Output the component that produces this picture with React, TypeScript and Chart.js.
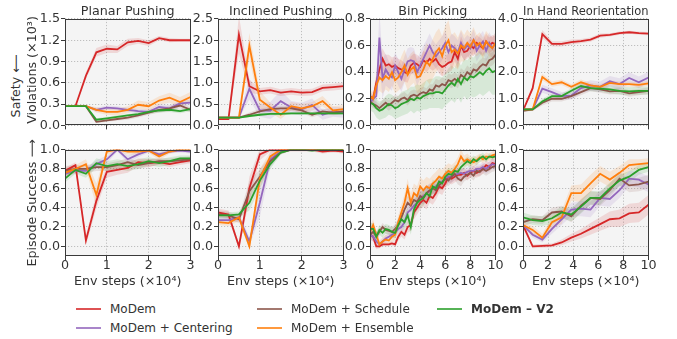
import React, { useEffect, useRef } from "react";
import { Chart, registerables } from "chart.js";

Chart.register(...registerables);

const FONT = "'DejaVu Sans', 'Liberation Sans', sans-serif";
const TEXT = "#333333";
const FRAME = "#3a3a3a";
const GRID = "#b8b8b8";
const PLOT_BG = "#f4f4f4";

const SERIES_NAMES = ["MoDem", "MoDem + Centering", "MoDem + Schedule", "MoDem + Ensemble", "MoDem – V2"];
const SERIES_COLORS = ["#d62728", "#9467bd", "#8c564b", "#ff7f0e", "#2ca02c"];
const TITLES = ["Planar Pushing", "Inclined Pushing", "Bin Picking", "In Hand Reorientation"];
const X_TITLE = "Env steps (×10⁴)";
const Y_TOP_LINE1 = "Safety \u27F5";
const Y_TOP_LINE2 = "Violations (×10³)";
const Y_BOTTOM = "Episode Success \u27F6";

// x values (×10^4 env steps)
const X_SHORT = [0, 0.25, 0.5, 0.75, 1, 1.25, 1.5, 1.75, 2, 2.25, 2.5, 2.75, 3];
const X_HAND = [0, 0.77, 1.54, 2.31, 3.08, 3.85, 4.62, 5.38, 6.15, 6.92, 7.69, 8.46, 9.23, 10];
const X_BIN = [0, 0.25, 0.5, 0.75, 1, 1.25, 1.5, 1.75, 2, 2.25, 2.5, 2.75, 3, 3.25, 3.5, 3.75, 4, 4.25, 4.5, 4.75, 5, 5.25, 5.5, 5.75, 6, 6.25, 6.5, 6.75, 7, 7.25, 7.5, 7.75, 8, 8.25, 8.5, 8.75, 9, 9.25, 9.5, 9.75, 10];

// tick values
const X_TICKS_SHORT = [0, 1, 2, 3];
const X_TICKS_LONG = [0, 2, 4, 6, 8, 10];
const Y_TICKS_PLANAR = [0, 0.3, 0.6, 0.9, 1.2, 1.5];
const Y_TICKS_INCLINED = [0, 0.5, 1, 1.5, 2, 2.5];
const Y_TICKS_BIN = [0, 0.2, 0.4, 0.6, 0.8];
const Y_TICKS_HAND = [0, 1, 2, 3, 4];
const Y_TICKS_SUCCESS = [0, 0.2, 0.4, 0.6, 0.8, 1.0];

// ---------- Planar pushing: violations ----------
const planarViolRed = [0.27, 0.27, 0.70, 1.03, 1.08, 1.07, 1.17, 1.19, 1.16, 1.23, 1.20, 1.20, 1.20];
const planarViolPurple = [0.27, 0.27, 0.27, 0.22, 0.25, 0.24, 0.22, 0.20, 0.19, 0.26, 0.24, 0.31, 0.32];
const planarViolBrown = [0.27, 0.27, 0.27, 0.05, 0.07, 0.09, 0.11, 0.14, 0.18, 0.22, 0.24, 0.28, 0.22];
const planarViolOrange = [0.27, 0.27, 0.27, 0.22, 0.19, 0.19, 0.22, 0.29, 0.27, 0.35, 0.39, 0.33, 0.40];
const planarViolGreen = [0.27, 0.27, 0.27, 0.08, 0.10, 0.12, 0.14, 0.16, 0.19, 0.21, 0.22, 0.20, 0.23];
const planarViolRedSd = [0.01, 0.01, 0.05, 0.06, 0.06, 0.05, 0.05, 0.04, 0.04, 0.03, 0.03, 0.02, 0.02];
const planarViolPurpleSd = [0.01, 0.01, 0.01, 0.03, 0.03, 0.03, 0.03, 0.03, 0.03, 0.04, 0.04, 0.04, 0.04];
const planarViolBrownSd = [0.01, 0.01, 0.01, 0.02, 0.02, 0.02, 0.03, 0.03, 0.03, 0.04, 0.04, 0.04, 0.04];
const planarViolOrangeSd = [0.01, 0.01, 0.01, 0.04, 0.04, 0.05, 0.05, 0.06, 0.06, 0.06, 0.07, 0.07, 0.07];
const planarViolGreenSd = [0.01, 0.01, 0.01, 0.02, 0.02, 0.02, 0.02, 0.03, 0.03, 0.03, 0.03, 0.03, 0.03];

// ---------- Inclined pushing: violations ----------
const inclViolRed = [0.15, 0.15, 2.13, 0.92, 0.80, 0.83, 0.77, 0.80, 0.77, 0.78, 0.88, 0.90, 0.92];
const inclViolPurple = [0.18, 0.18, 0.18, 0.86, 0.35, 0.35, 0.57, 0.42, 0.38, 0.48, 0.25, 0.32, 0.30];
const inclViolBrown = [0.18, 0.18, 0.18, 0.25, 0.33, 0.38, 0.40, 0.40, 0.35, 0.25, 0.33, 0.30, 0.33];
const inclViolOrange = [0.18, 0.18, 0.18, 1.87, 0.60, 0.42, 0.25, 0.45, 0.40, 0.45, 0.57, 0.35, 0.38];
const inclViolGreen = [0.18, 0.18, 0.18, 0.22, 0.25, 0.27, 0.27, 0.28, 0.28, 0.28, 0.28, 0.28, 0.28];
const inclViolRedSd = [0.02, 0.02, 0.45, 0.15, 0.08, 0.08, 0.08, 0.08, 0.08, 0.08, 0.08, 0.08, 0.08];
const inclViolPurpleSd = [0.02, 0.02, 0.02, 0.25, 0.15, 0.20, 0.25, 0.15, 0.15, 0.15, 0.12, 0.12, 0.12];
const inclViolBrownSd = [0.02, 0.02, 0.02, 0.05, 0.06, 0.06, 0.06, 0.06, 0.06, 0.06, 0.06, 0.06, 0.06];
const inclViolOrangeSd = [0.02, 0.02, 0.02, 0.30, 0.20, 0.12, 0.10, 0.10, 0.10, 0.10, 0.12, 0.10, 0.10];
const inclViolGreenSd = [0.02, 0.02, 0.02, 0.03, 0.03, 0.03, 0.03, 0.03, 0.03, 0.03, 0.03, 0.03, 0.03];

// ---------- Bin picking: violations ----------
const binViolRed = [0.22, 0.20, 0.32, 0.42, 0.50, 0.45, 0.46, 0.44, 0.45, 0.43, 0.42, 0.40, 0.39, 0.45, 0.47, 0.46, 0.44, 0.49, 0.47, 0.50, 0.48, 0.50, 0.46, 0.44, 0.45, 0.47, 0.48, 0.55, 0.50, 0.60, 0.55, 0.56, 0.60, 0.58, 0.62, 0.60, 0.58, 0.63, 0.60, 0.62, 0.61];
const binViolPurple = [0.17, 0.20, 0.22, 0.66, 0.35, 0.42, 0.38, 0.36, 0.45, 0.40, 0.35, 0.42, 0.48, 0.49, 0.48, 0.40, 0.45, 0.50, 0.55, 0.60, 0.55, 0.52, 0.55, 0.58, 0.62, 0.55, 0.60, 0.58, 0.55, 0.62, 0.57, 0.60, 0.58, 0.64, 0.56, 0.60, 0.63, 0.56, 0.62, 0.58, 0.62];
const binViolBrown = [0.18, 0.16, 0.15, 0.13, 0.15, 0.17, 0.15, 0.17, 0.19, 0.18, 0.20, 0.21, 0.19, 0.22, 0.23, 0.22, 0.24, 0.25, 0.24, 0.27, 0.26, 0.30, 0.29, 0.31, 0.30, 0.34, 0.33, 0.35, 0.33, 0.38, 0.36, 0.40, 0.38, 0.42, 0.41, 0.44, 0.46, 0.45, 0.49, 0.50, 0.53];
const binViolOrange = [0.22, 0.20, 0.30, 0.36, 0.34, 0.37, 0.35, 0.40, 0.34, 0.36, 0.40, 0.45, 0.38, 0.42, 0.44, 0.36, 0.37, 0.42, 0.48, 0.45, 0.50, 0.55, 0.58, 0.52, 0.60, 0.64, 0.55, 0.57, 0.54, 0.60, 0.58, 0.62, 0.59, 0.64, 0.60, 0.62, 0.58, 0.63, 0.60, 0.58, 0.62];
const binViolGreen = [0.17, 0.16, 0.13, 0.11, 0.12, 0.14, 0.16, 0.15, 0.13, 0.14, 0.16, 0.17, 0.18, 0.20, 0.19, 0.21, 0.20, 0.22, 0.23, 0.24, 0.24, 0.25, 0.25, 0.24, 0.27, 0.30, 0.32, 0.30, 0.35, 0.31, 0.36, 0.34, 0.37, 0.36, 0.38, 0.40, 0.38, 0.41, 0.43, 0.40, 0.41];
const binViolRedSd = [0.03, 0.03, 0.06, 0.08, 0.08, 0.08, 0.07, 0.07, 0.07, 0.07, 0.07, 0.07, 0.07, 0.07, 0.07, 0.07, 0.07, 0.07, 0.07, 0.07, 0.07, 0.07, 0.07, 0.07, 0.07, 0.07, 0.07, 0.07, 0.07, 0.07, 0.06, 0.06, 0.06, 0.06, 0.06, 0.06, 0.06, 0.06, 0.06, 0.06, 0.06];
const binViolPurpleSd = [0.03, 0.04, 0.06, 0.20, 0.15, 0.12, 0.10, 0.10, 0.10, 0.10, 0.10, 0.10, 0.10, 0.10, 0.10, 0.10, 0.10, 0.10, 0.09, 0.09, 0.09, 0.09, 0.09, 0.09, 0.09, 0.09, 0.09, 0.09, 0.09, 0.09, 0.08, 0.08, 0.08, 0.08, 0.08, 0.08, 0.08, 0.08, 0.08, 0.08, 0.08];
const binViolBrownSd = [0.03, 0.03, 0.03, 0.03, 0.04, 0.04, 0.04, 0.04, 0.04, 0.04, 0.04, 0.04, 0.04, 0.04, 0.04, 0.04, 0.04, 0.04, 0.04, 0.04, 0.05, 0.05, 0.05, 0.05, 0.05, 0.05, 0.05, 0.05, 0.05, 0.05, 0.05, 0.05, 0.05, 0.05, 0.05, 0.05, 0.05, 0.05, 0.05, 0.05, 0.05];
const binViolOrangeSd = [0.04, 0.05, 0.08, 0.10, 0.10, 0.10, 0.10, 0.10, 0.10, 0.10, 0.12, 0.12, 0.12, 0.12, 0.12, 0.12, 0.12, 0.14, 0.14, 0.14, 0.15, 0.15, 0.15, 0.15, 0.15, 0.15, 0.13, 0.13, 0.12, 0.12, 0.10, 0.10, 0.10, 0.10, 0.08, 0.08, 0.08, 0.08, 0.08, 0.08, 0.08];
const binViolGreenSd = [0.06, 0.06, 0.07, 0.07, 0.07, 0.08, 0.08, 0.08, 0.08, 0.08, 0.09, 0.09, 0.09, 0.09, 0.10, 0.10, 0.10, 0.10, 0.11, 0.11, 0.11, 0.12, 0.12, 0.12, 0.12, 0.13, 0.13, 0.13, 0.14, 0.14, 0.14, 0.15, 0.15, 0.15, 0.16, 0.16, 0.16, 0.17, 0.17, 0.17, 0.18];

// ---------- In hand reorientation: violations ----------
const handViolRed = [0.55, 1.40, 3.43, 3.06, 3.06, 3.13, 3.17, 3.22, 3.37, 3.40, 3.47, 3.50, 3.47, 3.45];
const handViolPurple = [0.60, 0.60, 1.38, 1.25, 1.10, 1.12, 1.40, 1.50, 1.45, 1.66, 1.55, 1.78, 1.62, 1.80];
const handViolBrown = [0.55, 0.60, 0.85, 1.00, 1.00, 1.10, 1.25, 1.40, 1.35, 1.28, 1.30, 1.20, 1.25, 1.30];
const handViolOrange = [0.60, 0.60, 1.82, 1.55, 1.62, 1.45, 1.62, 1.50, 1.45, 1.60, 1.55, 1.55, 1.52, 1.58];
const handViolGreen = [0.60, 0.60, 0.90, 1.10, 1.10, 1.30, 1.48, 1.40, 1.38, 1.35, 1.30, 1.28, 1.30, 1.30];
const handViolRedSd = [0.05, 0.10, 0.15, 0.10, 0.10, 0.10, 0.08, 0.08, 0.08, 0.06, 0.06, 0.06, 0.06, 0.06];
const handViolPurpleSd = [0.05, 0.05, 0.15, 0.15, 0.15, 0.15, 0.18, 0.20, 0.20, 0.20, 0.22, 0.22, 0.22, 0.22];
const handViolBrownSd = [0.05, 0.05, 0.10, 0.10, 0.10, 0.10, 0.12, 0.12, 0.12, 0.12, 0.12, 0.12, 0.12, 0.12];
const handViolOrangeSd = [0.05, 0.05, 0.12, 0.10, 0.10, 0.10, 0.10, 0.10, 0.10, 0.10, 0.10, 0.10, 0.10, 0.10];
const handViolGreenSd = [0.05, 0.05, 0.10, 0.10, 0.10, 0.10, 0.12, 0.12, 0.12, 0.15, 0.15, 0.15, 0.15, 0.15];

// ---------- Planar pushing: success ----------
const planarSuccRed = [0.78, 0.84, 0.06, 0.47, 0.77, 0.79, 0.81, 0.87, 0.86, 0.87, 0.85, 0.87, 0.89];
const planarSuccPurple = [0.75, 0.78, 0.78, 0.85, 0.90, 1.00, 0.90, 0.95, 0.99, 0.95, 0.98, 0.99, 0.98];
const planarSuccBrown = [0.78, 0.80, 0.80, 0.82, 0.82, 0.84, 0.87, 0.84, 0.86, 0.88, 0.88, 0.89, 0.90];
const planarSuccOrange = [0.76, 0.80, 0.85, 0.53, 0.98, 1.00, 0.98, 0.98, 0.99, 0.93, 0.98, 1.00, 1.00];
const planarSuccGreen = [0.70, 0.79, 0.75, 0.86, 0.83, 0.85, 0.83, 0.85, 0.88, 0.86, 0.88, 0.91, 0.91];
const planarSuccRedSd = [0.03, 0.03, 0.05, 0.08, 0.06, 0.05, 0.05, 0.04, 0.04, 0.03, 0.03, 0.03, 0.03];
const planarSuccPurpleSd = [0.03, 0.03, 0.03, 0.04, 0.04, 0.02, 0.04, 0.03, 0.02, 0.03, 0.02, 0.02, 0.02];
const planarSuccBrownSd = [0.05, 0.04, 0.04, 0.04, 0.04, 0.04, 0.04, 0.04, 0.04, 0.03, 0.03, 0.03, 0.03];
const planarSuccOrangeSd = [0.04, 0.04, 0.05, 0.12, 0.03, 0.02, 0.03, 0.03, 0.02, 0.04, 0.02, 0.02, 0.02];
const planarSuccGreenSd = [0.04, 0.04, 0.04, 0.05, 0.05, 0.05, 0.05, 0.05, 0.04, 0.04, 0.04, 0.03, 0.03];

// ---------- Inclined pushing: success ----------
const inclSuccRed = [0.35, 0.33, 0.00, 0.60, 0.95, 1.00, 1.00, 1.00, 1.00, 1.00, 0.98, 0.99, 0.98];
const inclSuccPurple = [0.27, 0.27, 0.30, 0.05, 0.45, 0.90, 0.98, 1.00, 1.00, 1.00, 1.00, 1.00, 1.00];
const inclSuccBrown = [0.33, 0.32, 0.28, 0.57, 0.72, 0.88, 0.97, 1.00, 1.00, 1.00, 1.00, 1.00, 1.00];
const inclSuccOrange = [0.25, 0.24, 0.30, 0.00, 0.70, 0.93, 1.00, 1.00, 1.00, 1.00, 1.00, 1.00, 1.00];
const inclSuccGreen = [0.32, 0.32, 0.33, 0.45, 0.68, 0.85, 0.97, 1.00, 1.00, 0.99, 1.00, 1.00, 1.00];
const inclSuccRedSd = [0.04, 0.04, 0.03, 0.12, 0.06, 0.02, 0.02, 0.02, 0.02, 0.02, 0.02, 0.02, 0.02];
const inclSuccPurpleSd = [0.03, 0.03, 0.04, 0.05, 0.15, 0.08, 0.02, 0.01, 0.01, 0.01, 0.01, 0.01, 0.01];
const inclSuccBrownSd = [0.04, 0.04, 0.04, 0.10, 0.08, 0.05, 0.02, 0.01, 0.01, 0.01, 0.01, 0.01, 0.01];
const inclSuccOrangeSd = [0.03, 0.03, 0.04, 0.03, 0.10, 0.05, 0.01, 0.01, 0.01, 0.01, 0.01, 0.01, 0.01];
const inclSuccGreenSd = [0.03, 0.03, 0.03, 0.08, 0.08, 0.05, 0.02, 0.01, 0.01, 0.01, 0.01, 0.01, 0.01];

// ---------- Bin picking: success ----------
const binSuccRed = [0.12, 0.10, 0.00, 0.00, 0.02, 0.02, 0.02, 0.03, 0.02, 0.10, 0.15, 0.12, 0.20, 0.22, 0.35, 0.40, 0.45, 0.48, 0.45, 0.52, 0.50, 0.55, 0.62, 0.60, 0.65, 0.72, 0.70, 0.72, 0.74, 0.74, 0.76, 0.73, 0.76, 0.78, 0.76, 0.78, 0.80, 0.84, 0.82, 0.86, 0.85];
const binSuccPurple = [0.12, 0.10, 0.05, 0.02, 0.05, 0.08, 0.10, 0.12, 0.14, 0.18, 0.20, 0.25, 0.35, 0.38, 0.42, 0.45, 0.50, 0.52, 0.55, 0.57, 0.60, 0.62, 0.65, 0.67, 0.70, 0.72, 0.72, 0.74, 0.75, 0.76, 0.75, 0.77, 0.78, 0.78, 0.80, 0.80, 0.82, 0.80, 0.83, 0.85, 0.84];
const binSuccBrown = [0.12, 0.15, 0.10, 0.15, 0.20, 0.17, 0.16, 0.15, 0.18, 0.22, 0.30, 0.38, 0.45, 0.42, 0.48, 0.46, 0.52, 0.50, 0.55, 0.58, 0.60, 0.58, 0.63, 0.66, 0.70, 0.68, 0.72, 0.75, 0.70, 0.68, 0.72, 0.74, 0.76, 0.73, 0.78, 0.77, 0.80, 0.78, 0.80, 0.82, 0.83];
const binSuccOrange = [0.15, 0.22, 0.12, 0.02, 0.05, 0.07, 0.06, 0.10, 0.12, 0.25, 0.35, 0.45, 0.60, 0.45, 0.55, 0.52, 0.62, 0.58, 0.62, 0.60, 0.65, 0.68, 0.72, 0.70, 0.75, 0.78, 0.76, 0.80, 0.85, 0.93, 0.88, 0.90, 0.88, 0.87, 0.89, 0.92, 0.90, 0.93, 0.92, 0.94, 0.95];
const binSuccGreen = [0.18, 0.18, 0.10, 0.17, 0.14, 0.18, 0.17, 0.15, 0.14, 0.22, 0.28, 0.25, 0.32, 0.20, 0.38, 0.45, 0.48, 0.50, 0.55, 0.52, 0.62, 0.60, 0.67, 0.65, 0.72, 0.75, 0.74, 0.78, 0.77, 0.82, 0.85, 0.88, 0.86, 0.90, 0.88, 0.91, 0.93, 0.90, 0.93, 0.92, 0.93];
const binSuccRedSd = [0.05, 0.05, 0.03, 0.02, 0.02, 0.02, 0.02, 0.02, 0.03, 0.04, 0.05, 0.05, 0.06, 0.06, 0.07, 0.07, 0.07, 0.07, 0.07, 0.07, 0.07, 0.07, 0.07, 0.07, 0.06, 0.06, 0.06, 0.06, 0.06, 0.06, 0.05, 0.05, 0.05, 0.05, 0.05, 0.05, 0.05, 0.05, 0.05, 0.05, 0.05];
const binSuccPurpleSd = [0.05, 0.05, 0.04, 0.03, 0.03, 0.04, 0.04, 0.04, 0.05, 0.05, 0.06, 0.06, 0.07, 0.07, 0.07, 0.07, 0.07, 0.07, 0.07, 0.07, 0.06, 0.06, 0.06, 0.06, 0.06, 0.06, 0.06, 0.06, 0.06, 0.06, 0.05, 0.05, 0.05, 0.05, 0.05, 0.05, 0.05, 0.05, 0.05, 0.05, 0.05];
const binSuccBrownSd = [0.05, 0.05, 0.05, 0.04, 0.04, 0.04, 0.04, 0.05, 0.05, 0.06, 0.07, 0.07, 0.07, 0.07, 0.07, 0.07, 0.07, 0.07, 0.07, 0.07, 0.06, 0.06, 0.06, 0.06, 0.06, 0.06, 0.06, 0.06, 0.06, 0.06, 0.05, 0.05, 0.05, 0.05, 0.05, 0.05, 0.05, 0.05, 0.05, 0.05, 0.05];
const binSuccOrangeSd = [0.06, 0.06, 0.05, 0.04, 0.04, 0.05, 0.05, 0.05, 0.06, 0.07, 0.08, 0.09, 0.10, 0.10, 0.10, 0.10, 0.10, 0.10, 0.10, 0.10, 0.09, 0.09, 0.09, 0.09, 0.08, 0.08, 0.08, 0.07, 0.07, 0.07, 0.06, 0.06, 0.05, 0.05, 0.05, 0.04, 0.04, 0.04, 0.04, 0.04, 0.04];
const binSuccGreenSd = [0.06, 0.06, 0.05, 0.05, 0.05, 0.05, 0.05, 0.05, 0.06, 0.07, 0.08, 0.08, 0.08, 0.08, 0.08, 0.08, 0.08, 0.08, 0.07, 0.07, 0.07, 0.07, 0.07, 0.07, 0.06, 0.06, 0.06, 0.06, 0.06, 0.05, 0.05, 0.05, 0.05, 0.04, 0.04, 0.04, 0.04, 0.03, 0.03, 0.03, 0.03];

// ---------- In hand reorientation: success ----------
const handSuccRed = [0.22, 0.00, 0.005, 0.01, 0.04, 0.09, 0.13, 0.18, 0.23, 0.28, 0.29, 0.34, 0.35, 0.43];
const handSuccPurple = [0.22, 0.12, 0.07, 0.18, 0.28, 0.38, 0.39, 0.38, 0.50, 0.49, 0.58, 0.70, 0.69, 0.64];
const handSuccBrown = [0.25, 0.28, 0.27, 0.35, 0.36, 0.31, 0.42, 0.50, 0.49, 0.58, 0.70, 0.63, 0.64, 0.67];
const handSuccOrange = [0.22, 0.17, 0.09, 0.25, 0.30, 0.55, 0.55, 0.65, 0.75, 0.69, 0.76, 0.84, 0.85, 0.86];
const handSuccGreen = [0.30, 0.27, 0.26, 0.29, 0.35, 0.33, 0.41, 0.50, 0.50, 0.60, 0.68, 0.72, 0.79, 0.82];
const handSuccRedSd = [0.03, 0.02, 0.02, 0.02, 0.03, 0.04, 0.05, 0.06, 0.07, 0.08, 0.09, 0.10, 0.10, 0.10];
const handSuccPurpleSd = [0.03, 0.03, 0.03, 0.05, 0.06, 0.07, 0.08, 0.08, 0.08, 0.08, 0.08, 0.08, 0.08, 0.08];
const handSuccBrownSd = [0.04, 0.04, 0.04, 0.05, 0.06, 0.06, 0.07, 0.07, 0.07, 0.07, 0.07, 0.07, 0.07, 0.07];
const handSuccOrangeSd = [0.04, 0.04, 0.04, 0.06, 0.07, 0.08, 0.09, 0.09, 0.08, 0.08, 0.07, 0.06, 0.05, 0.05];
const handSuccGreenSd = [0.05, 0.05, 0.05, 0.06, 0.06, 0.07, 0.07, 0.07, 0.07, 0.06, 0.06, 0.06, 0.05, 0.05];

type Panel = {
  row: number;
  col: number;
  title: string;
  x: number[];
  means: number[][];
  spreads: number[][];
  yMin: number;
  yMax: number;
  yTicks: number[];
  xMax: number;
  xTicks: number[];
};

const PANELS: Panel[] = [
  { row: 0, col: 0, title: TITLES[0], x: X_SHORT, means: [planarViolRed, planarViolPurple, planarViolBrown, planarViolOrange, planarViolGreen], spreads: [planarViolRedSd, planarViolPurpleSd, planarViolBrownSd, planarViolOrangeSd, planarViolGreenSd], yMin: 0, yMax: 1.5, yTicks: Y_TICKS_PLANAR, xMax: 3, xTicks: X_TICKS_SHORT },
  { row: 0, col: 1, title: TITLES[1], x: X_SHORT, means: [inclViolRed, inclViolPurple, inclViolBrown, inclViolOrange, inclViolGreen], spreads: [inclViolRedSd, inclViolPurpleSd, inclViolBrownSd, inclViolOrangeSd, inclViolGreenSd], yMin: 0, yMax: 2.5, yTicks: Y_TICKS_INCLINED, xMax: 3, xTicks: X_TICKS_SHORT },
  { row: 0, col: 2, title: TITLES[2], x: X_BIN, means: [binViolRed, binViolPurple, binViolBrown, binViolOrange, binViolGreen], spreads: [binViolRedSd, binViolPurpleSd, binViolBrownSd, binViolOrangeSd, binViolGreenSd], yMin: 0, yMax: 0.8, yTicks: Y_TICKS_BIN, xMax: 10, xTicks: X_TICKS_LONG },
  { row: 0, col: 3, title: TITLES[3], x: X_HAND, means: [handViolRed, handViolPurple, handViolBrown, handViolOrange, handViolGreen], spreads: [handViolRedSd, handViolPurpleSd, handViolBrownSd, handViolOrangeSd, handViolGreenSd], yMin: 0, yMax: 4, yTicks: Y_TICKS_HAND, xMax: 10, xTicks: X_TICKS_LONG },
  { row: 1, col: 0, title: "", x: X_SHORT, means: [planarSuccRed, planarSuccPurple, planarSuccBrown, planarSuccOrange, planarSuccGreen], spreads: [planarSuccRedSd, planarSuccPurpleSd, planarSuccBrownSd, planarSuccOrangeSd, planarSuccGreenSd], yMin: -0.1, yMax: 1.0, yTicks: Y_TICKS_SUCCESS, xMax: 3, xTicks: X_TICKS_SHORT },
  { row: 1, col: 1, title: "", x: X_SHORT, means: [inclSuccRed, inclSuccPurple, inclSuccBrown, inclSuccOrange, inclSuccGreen], spreads: [inclSuccRedSd, inclSuccPurpleSd, inclSuccBrownSd, inclSuccOrangeSd, inclSuccGreenSd], yMin: -0.1, yMax: 1.0, yTicks: Y_TICKS_SUCCESS, xMax: 3, xTicks: X_TICKS_SHORT },
  { row: 1, col: 2, title: "", x: X_BIN, means: [binSuccRed, binSuccPurple, binSuccBrown, binSuccOrange, binSuccGreen], spreads: [binSuccRedSd, binSuccPurpleSd, binSuccBrownSd, binSuccOrangeSd, binSuccGreenSd], yMin: -0.1, yMax: 1.0, yTicks: Y_TICKS_SUCCESS, xMax: 10, xTicks: X_TICKS_LONG },
  { row: 1, col: 3, title: "", x: X_HAND, means: [handSuccRed, handSuccPurple, handSuccBrown, handSuccOrange, handSuccGreen], spreads: [handSuccRedSd, handSuccPurpleSd, handSuccBrownSd, handSuccOrangeSd, handSuccGreenSd], yMin: -0.1, yMax: 1.0, yTicks: Y_TICKS_SUCCESS, xMax: 10, xTicks: X_TICKS_LONG },
];

// layout (pixels)
const PLOT_LEFT = [65, 218, 370, 523];
const Y_AXIS_W = 40;
const PAD_R = 14.5;
const CANVAS_W = 180;
const ROW_CANVAS_TOP = [0, 141];
const ROW_CANVAS_H = [134, 153];

function rgba(hex: string, a: number) {
  const n = parseInt(hex.slice(1), 16);
  return `rgba(${(n >> 16) & 255},${(n >> 8) & 255},${n & 255},${a})`;
}

const framePlugin = {
  id: "panelFrame",
  beforeDraw(chart: any) {
    const { ctx, chartArea: a } = chart;
    ctx.save();
    ctx.fillStyle = PLOT_BG;
    ctx.fillRect(a.left, a.top, a.right - a.left, a.bottom - a.top);
    ctx.restore();
  },
  afterDatasetsDraw(chart: any) {
    const { ctx, chartArea: a } = chart;
    ctx.save();
    ctx.strokeStyle = FRAME;
    ctx.lineWidth = 1;
    const l = Math.round(a.left) + 0.5;
    const t = Math.round(a.top) + 0.5;
    const r = Math.round(a.right) - 0.5;
    const b = Math.round(a.bottom) - 0.5;
    ctx.strokeRect(l, t, r - l, b - t);
    ctx.restore();
  },
};

function PanelChart({ p }: { p: Panel }) {
  const ref = useRef<HTMLCanvasElement>(null);
  useEffect(() => {
    const canvas = ref.current;
    if (!canvas) return;
    const isBottom = p.row === 1;
    const datasets: any[] = [];
    p.means.forEach((m, i) => {
      const s = p.spreads[i];
      datasets.push({
        data: p.x.map((x, k) => ({ x, y: m[k] - s[k] })),
        borderWidth: 0,
        borderColor: "rgba(0,0,0,0)",
        pointRadius: 0,
        fill: false,
        order: 100 + i,
      });
      datasets.push({
        data: p.x.map((x, k) => ({ x, y: m[k] + s[k] })),
        borderWidth: 0,
        borderColor: "rgba(0,0,0,0)",
        backgroundColor: rgba(SERIES_COLORS[i], 0.14),
        pointRadius: 0,
        fill: "-1",
        order: 100 + i,
      });
    });
    p.means.forEach((m, i) => {
      datasets.push({
        data: p.x.map((x, k) => ({ x, y: m[k] })),
        borderColor: SERIES_COLORS[i],
        borderWidth: 1.8,
        pointRadius: 0,
        fill: false,
        tension: 0,
        order: 10 - i,
      });
    });
    const tickFont = { family: FONT, size: 12.7 };
    const grid = { color: GRID, lineWidth: 0.9, tickLength: 4, tickColor: FRAME, tickWidth: 1, tickBorderDash: [] };
    const border = { display: false, dash: [1.2, 1.8] };
    const chart = new Chart(canvas, {
      type: "line",
      data: { datasets },
      options: {
        animation: false,
        responsive: false,
        maintainAspectRatio: false,
        devicePixelRatio: 1,
        layout: { padding: { left: 0, right: PAD_R, top: isBottom ? 8 : 0, bottom: isBottom ? 0 : 2 } },
        plugins: {
          legend: { display: false },
          tooltip: { enabled: false },
          title: {
            display: !isBottom,
            text: p.title,
            fullSize: false,
            padding: { top: 3.7, bottom: 0 },
            font: { family: FONT, size: 12.7, weight: "normal" },
            color: TEXT,
          },
        },
        scales: {
          x: {
            type: "linear",
            min: 0,
            max: p.xMax,
            afterBuildTicks: (s: any) => {
              s.ticks = p.xTicks.map((v) => ({ value: v }));
            },
            afterFit: (s: any) => {
              s.height = isBottom ? 38 : 6;
            },
            ticks: {
              display: isBottom,
              padding: -1.5,
              autoSkip: false,
              maxRotation: 0,
              font: tickFont,
              color: TEXT,
              callback: (v: any) => String(v),
            },
            grid,
            border,
            title: {
              display: isBottom,
              text: X_TITLE,
              padding: { top: 0, bottom: 4.8 },
              font: tickFont,
              color: TEXT,
            },
          },
          y: {
            type: "linear",
            min: p.yMin,
            max: p.yMax,
            afterBuildTicks: (s: any) => {
              s.ticks = p.yTicks.map((v) => ({ value: v }));
            },
            afterFit: (s: any) => {
              s.width = Y_AXIS_W;
            },
            ticks: {
              padding: 1,
              autoSkip: false,
              font: tickFont,
              color: TEXT,
              callback: (v: any) => Number(v).toFixed(1),
            },
            grid,
            border,
          },
        },
      } as any,
      plugins: [framePlugin],
    });
    return () => chart.destroy();
  }, [p]);
  const left = PLOT_LEFT[p.col] - Y_AXIS_W;
  const top = ROW_CANVAS_TOP[p.row];
  const h = ROW_CANVAS_H[p.row];
  return (
    <canvas
      ref={ref}
      width={CANVAS_W}
      height={h}
      style={{ position: "absolute", left, top, width: CANVAS_W, height: h }}
    />
  );
}

function RotLabel({ text, cx, cy }: { text: string; cx: number; cy: number }) {
  return (
    <div
      style={{
        position: "absolute",
        left: cx,
        top: cy,
        transform: "translate(-50%, -50%) rotate(-90deg)",
        whiteSpace: "nowrap",
        fontFamily: FONT,
        fontSize: 12.7,
        lineHeight: 1,
        color: TEXT,
      }}
    >
      {text}
    </div>
  );
}

const LEGEND_COL_X = [76, 257, 437];
const LEGEND_ROW_Y = [309, 328];
// column-major legend placement: index -> [col,row]
const LEGEND_SLOTS = [
  [0, 0],
  [0, 1],
  [1, 0],
  [1, 1],
  [2, 0],
];

export default function App() {
  return (
    <div
      style={{
        position: "fixed",
        left: 0,
        top: 0,
        width: 677,
        height: 339,
        background: "#ffffff",
        overflow: "hidden",
      }}
    >
      {PANELS.map((p, i) => (
        <PanelChart key={i} p={p} />
      ))}
      <RotLabel text={Y_TOP_LINE1} cx={15.5} cy={86} />
      <RotLabel text={Y_TOP_LINE2} cx={32} cy={70} />
      <RotLabel text={Y_BOTTOM} cx={32} cy={203} />
      {SERIES_NAMES.map((name, i) => {
        const [c, r] = LEGEND_SLOTS[i];
        const x = LEGEND_COL_X[c];
        const y = LEGEND_ROW_Y[r];
        return (
          <React.Fragment key={name}>
            <div
              style={{
                position: "absolute",
                left: x,
                top: y - 1,
                width: 25,
                height: 2,
                background: SERIES_COLORS[i],
                opacity: 0.8,
              }}
            />
            <div
              style={{
                position: "absolute",
                left: x + 34,
                top: y,
                transform: "translateY(-50%)",
                whiteSpace: "nowrap",
                fontFamily: FONT,
                fontSize: 12,
                lineHeight: 1,
                color: TEXT,
                fontWeight: i === 4 ? "bold" : "normal",
              }}
            >
              {name}
            </div>
          </React.Fragment>
        );
      })}
    </div>
  );
}
